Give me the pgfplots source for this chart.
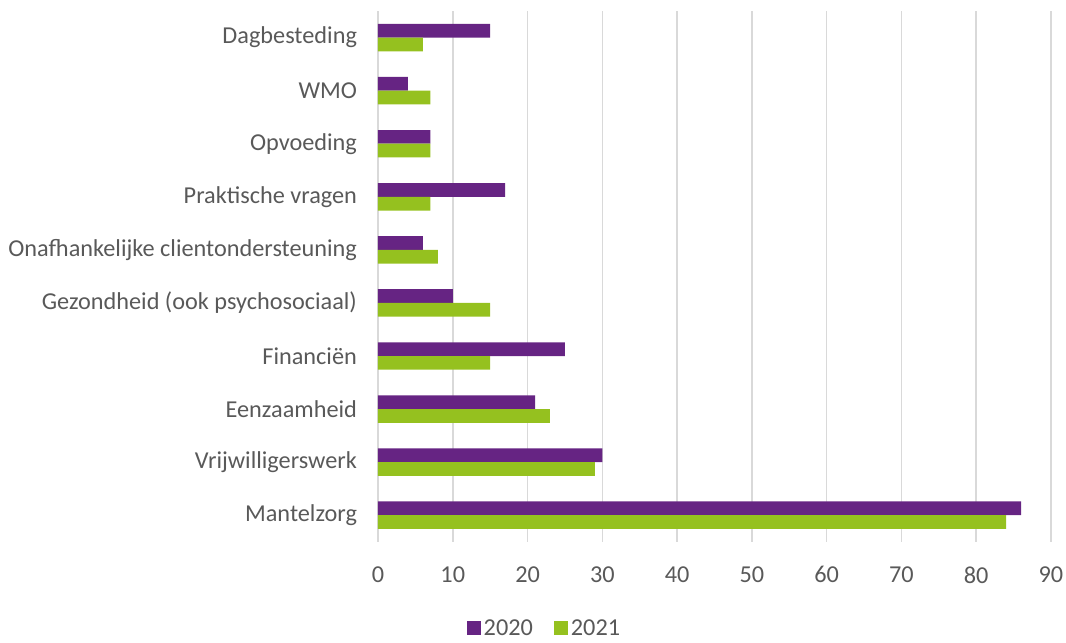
\documentclass[border=0pt]{standalone}
\usepackage{pgfplots}
\pgfplotsset{compat=1.18}
\usepackage{fontspec}
\setmainfont{Carlito}
\definecolor{paars}{HTML}{662483}
\definecolor{groen}{HTML}{95C11F}
\definecolor{tekst}{HTML}{595959}
\definecolor{raster}{HTML}{D9D9D9}
\begin{document}
\begin{tikzpicture}
\begin{axis}[
  scale only axis, width=504.75pt, height=398pt,
  xbar=0pt, bar width=10.3pt,
  xmin=0, xmax=90, xtick={0,10,...,90},
  ymin=-0.5, ymax=9.5, ytick={0,...,9},
  yticklabels={Mantelzorg,Vrijwilligerswerk,Eenzaamheid,Financiën,Gezondheid (ook psychosociaal),Onafhankelijke clientondersteuning,Praktische vragen,Opvoeding,WMO,Dagbesteding},
  axis line style={draw=none}, major tick style={draw=none},
  xmajorgrids, grid style={raster, line width=1.1pt},
  tick label style={font=\fontsize{18.2}{20}\selectfont, text=tekst},
  /pgf/number format/assume math mode=true,
  x tick label style={yshift=-15pt},
  y tick label style={xshift=-8pt},
  legend style={at={(0.248,-0.163)}, anchor=center, draw=none, font=\fontsize{18.2}{20}\selectfont, text=tekst, legend columns=2, /tikz/every even column/.append style={column sep=14pt}},
  legend image code/.code={\fill[#1] (0pt,-5.25pt) rectangle (10.5pt,5.25pt);},
]
\addplot[fill=paars, draw=none, bar shift=5.15pt] coordinates {(86,0) (30,1) (21,2) (25,3) (10,4) (6,5) (17,6) (7,7) (4,8) (15,9)};
\addplot[fill=groen, draw=none, bar shift=-5.15pt] coordinates {(84,0) (29,1) (23,2) (15,3) (15,4) (8,5) (7,6) (7,7) (7,8) (6,9)};
\legend{2020,2021}
\end{axis}
\pgfresetboundingbox
\useasboundingbox (-283.5pt,-75.2pt) rectangle (516pt,406.3pt);
\end{tikzpicture}
\end{document}
